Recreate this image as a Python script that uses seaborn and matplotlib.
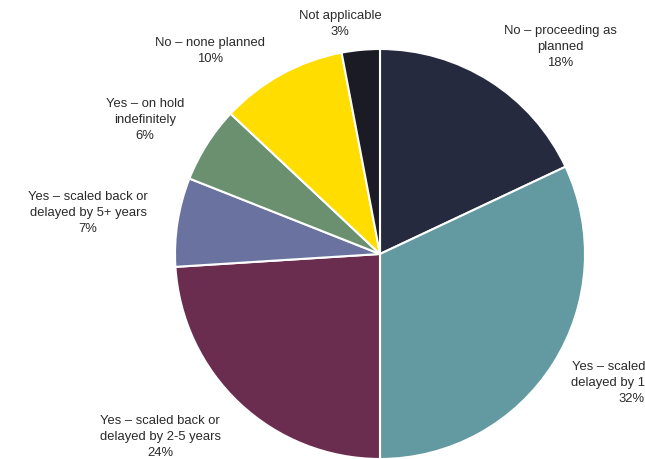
import matplotlib
matplotlib.use("Agg")
import matplotlib.pyplot as plt
import seaborn as sns

# Survey responses: has the project been affected?
categories = [
    "No – proceeding as\nplanned",
    "Yes – scaled back or\ndelayed by 1-2 years",
    "Yes – scaled back or\ndelayed by 2-5 years",
    "Yes – scaled back or\ndelayed by 5+ years",
    "Yes – on hold\nindefinitely",
    "No – none planned",
    "Not applicable",
]
shares = [18, 32, 24, 7, 6, 10, 3]
colors = ["#262a3e", "#6399a0", "#6b2d4f", "#6a73a0", "#6a9070", "#ffdd00", "#1b1b26"]

sns.set_theme(style="white")
plt.rcParams["font.family"] = ["Liberation Sans", "DejaVu Sans"]

W, H = 645, 459
fig = plt.figure(figsize=(W / 100, H / 100), dpi=100)
ax = fig.add_axes([0, 0, 1, 1])

cx, cy, r = 380, H - 254, 205
ax.pie(
    shares,
    colors=colors,
    startangle=90,
    counterclock=False,
    center=(cx, cy),
    radius=r,
    frame=True,
    wedgeprops=dict(edgecolor="white", linewidth=1.5),
)

# label anchor points (pixel layout, y measured from top)
label_pos = [
    (560, 47),
    (632, 383),
    (160, 437),
    (88, 213),
    (145, 120),
    (210, 51),
    (340, 24),
]
for name, val, (x, y) in zip(categories, shares, label_pos):
    ax.text(x, H - y, f"{name}\n{val}%", ha="center", va="center",
            fontsize=9.4, color="#2a2a2a", linespacing=1.4, clip_on=False)

ax.set_xlim(0, W)
ax.set_ylim(0, H)
ax.set_aspect("equal")
ax.axis("off")
fig.savefig("out.png", dpi=100, facecolor="white")
